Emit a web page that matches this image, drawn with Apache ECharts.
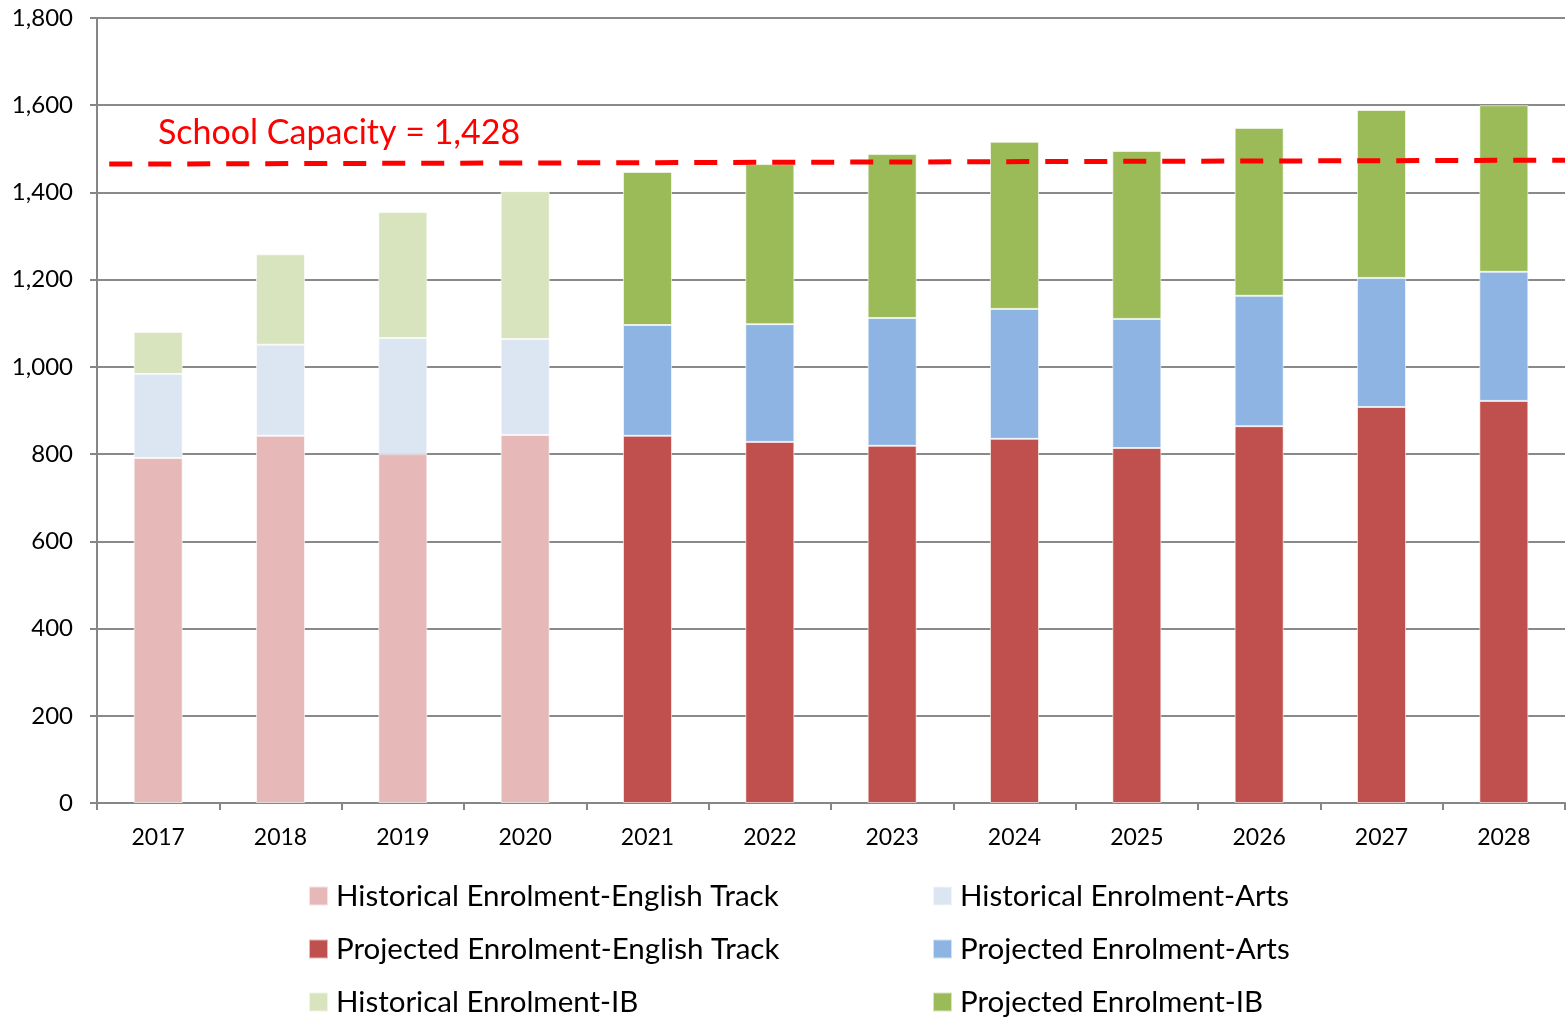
<!DOCTYPE html>
<html>
<head>
<meta charset="utf-8">
<script src="https://cdn.jsdelivr.net/npm/echarts@6/dist/echarts.min.js"></script>
<style>
  html, body { margin: 0; padding: 0; background: #fff; }
  #chart { width: 1568px; height: 1017px; }
</style>
</head>
<body>
<div id="chart"></div>
<script>
// years on the category axis
const years = ['2017', '2018', '2019', '2020', '2021', '2022', '2023', '2024', '2025', '2026', '2027', '2028'];

// historical enrolment (2017-2020), null for projected years
const histEnglish = [791, 842, 800, 844, null, null, null, null, null, null, null, null];
const histArts    = [193, 209, 266, 220, null, null, null, null, null, null, null, null];
const histIB      = [96, 207, 289, 339, null, null, null, null, null, null, null, null];

// projected enrolment (2021-2028)
const projEnglish = [null, null, null, null, 842, 828, 819, 835, 814, 864, 908, 922];
const projArts    = [null, null, null, null, 254, 270, 293, 298, 296, 299, 296, 296];
const projIB      = [null, null, null, null, 351, 367, 376, 383, 385, 385, 385, 382];

// capacity line as drawn (slightly sloped), on a hidden 0..12 x scale
const capacityLine = [[0.1, 1465], [12, 1474]];
const capacityText = 'School Capacity = 1,428';

const FONT = 'Lato, "Open Sans", sans-serif';

const chart = echarts.init(document.getElementById('chart'));

// every bar series shares one stack, nulls are skipped
function bar(name, data, color) {
  return {
    name: name,
    type: 'bar',
    stack: 'total',
    data: data,
    barWidth: 49,
    xAxisIndex: 0,
    itemStyle: { color: color, borderColor: 'rgba(255,255,255,0.6)', borderWidth: 1 },
    emphasis: { disabled: true },
  };
}

// one legend per entry so the two-column layout is exact
function legendItem(name, left, midY) {
  return {
    left: left,
    top: midY - 15,
    padding: 0,
    icon: 'rect',
    itemWidth: 19,
    itemHeight: 19,
    selectedMode: false,
    textStyle: { fontSize: 29.5, lineHeight: 30, color: '#000', fontFamily: FONT, padding: [0, 0, 0, 3] },
    data: [name],
  };
}

chart.setOption({
  backgroundColor: '#fff',
  animation: false,
  textStyle: { fontFamily: FONT },
  grid: { left: 97, right: 3, top: 18, bottom: 214, containLabel: false },
  legend: [
    legendItem('Historical Enrolment-English Track', 308, 896),
    legendItem('Historical Enrolment-Arts', 932, 896),
    legendItem('Projected Enrolment-English Track', 308, 949),
    legendItem('Projected Enrolment-Arts', 932, 949),
    legendItem('Historical Enrolment-IB', 308, 1002),
    legendItem('Projected Enrolment-IB', 932, 1002),
  ],
  xAxis: [
    {
      type: 'category',
      data: years,
      axisLine: { lineStyle: { color: '#868686', width: 2 } },
      axisTick: { show: true, length: 7, lineStyle: { color: '#868686', width: 2 } },
      axisLabel: { fontSize: 23, color: '#000', margin: 23, fontFamily: FONT },
    },
    {
      type: 'value',
      min: 0,
      max: 12,
      show: false,
    },
  ],
  yAxis: {
    type: 'value',
    min: 0,
    max: 1800,
    interval: 200,
    axisLine: { show: true, lineStyle: { color: '#868686', width: 2 } },
    axisTick: { show: true, length: 7, lineStyle: { color: '#868686', width: 2 } },
    axisLabel: {
      fontSize: 24,
      color: '#000',
      margin: 24,
      fontFamily: FONT,
      formatter: (v) => v.toLocaleString('en-US'),
    },
    splitLine: { show: true, lineStyle: { color: '#898989', width: 2 } },
  },
  series: [
    bar('Historical Enrolment-English Track', histEnglish, '#E6B9B8'),
    bar('Projected Enrolment-English Track', projEnglish, '#C0504D'),
    bar('Historical Enrolment-Arts', histArts, '#DCE6F2'),
    bar('Projected Enrolment-Arts', projArts, '#8EB4E3'),
    bar('Historical Enrolment-IB', histIB, '#D7E4BD'),
    bar('Projected Enrolment-IB', projIB, '#9BBB59'),
    {
      name: 'capacity',
      type: 'line',
      xAxisIndex: 1,
      data: capacityLine,
      symbol: 'none',
      lineStyle: { color: '#FF0000', width: 5, type: [23, 16] },
      emphasis: { disabled: true },
      z: 5,
    },
  ],
  graphic: [
    {
      type: 'text',
      left: 158,
      top: 116,
      style: { text: capacityText, fill: '#FF0000', font: '34px ' + FONT },
    },
  ],
});
</script>
</body>
</html>
